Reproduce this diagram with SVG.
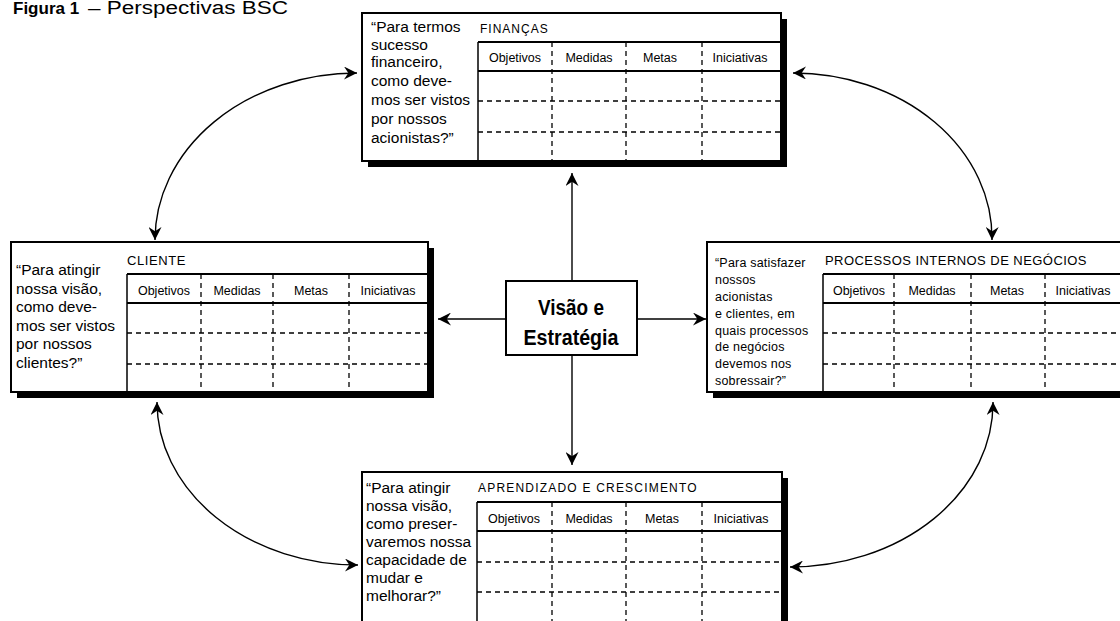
<svg xmlns="http://www.w3.org/2000/svg" width="1120" height="621" viewBox="0 0 1120 621">
<style>
text{font-family:"Liberation Sans",Arial,sans-serif;fill:#000}
.box{fill:#fff;stroke:#000;stroke-width:2}
.shadow{fill:#000}
.solid{stroke:#000;stroke-width:2}
.sep{stroke:#000;stroke-width:1.5}
.dash{stroke:#000;stroke-width:1.3;stroke-dasharray:5 4}
.q{font-size:15.5px}
.qp{font-size:12.5px;letter-spacing:0.2px}
.h{font-size:12px;letter-spacing:1px}
.col{font-size:12.5px;text-anchor:middle}
.conn{fill:none;stroke:#000;stroke-width:1.4}
.ctr{font-size:22px;font-weight:bold;text-anchor:middle}
</style>
<defs>
<marker id="ah" viewBox="0 0 12 12" refX="12" refY="6" markerWidth="13" markerHeight="13" markerUnits="userSpaceOnUse" orient="auto-start-reverse">
<path d="M0,0 L12,6 L0,12 L4,6 z" fill="#000"/>
</marker>
</defs>
<rect width="1120" height="621" fill="#fff"/>

<g id="caption">
<text x="13" y="14" style="font-size:17px;font-weight:bold">Figura 1</text>
<text x="88" y="14" style="font-size:18px" textLength="200" lengthAdjust="spacingAndGlyphs">– Perspectivas BSC</text>
</g>

<g id="connectors">
<path class="conn" d="M572,281 L572,173" marker-end="url(#ah)"/>
<path class="conn" d="M572,355 L572,465" marker-end="url(#ah)"/>
<path class="conn" d="M506,319 L438,319" marker-end="url(#ah)"/>
<path class="conn" d="M637,319 L706,319" marker-end="url(#ah)"/>
<path class="conn" d="M155,240 A202 167 0 0 1 357,73" marker-start="url(#ah)" marker-end="url(#ah)"/>
<path class="conn" d="M793,73 A199 165 0 0 1 992,240" marker-start="url(#ah)" marker-end="url(#ah)"/>
<path class="conn" d="M157,402 A201 163 0 0 0 358,565" marker-start="url(#ah)" marker-end="url(#ah)"/>
<path class="conn" d="M790,567 A203 164 0 0 0 993,402" marker-start="url(#ah)" marker-end="url(#ah)"/>
</g>

<g id="financas">
<rect class="shadow" x="368" y="19" width="419" height="148"/>
<rect class="box" x="362" y="13" width="419" height="148"/>
<line class="solid" x1="478" y1="42" x2="781" y2="42"/>
<line class="solid" x1="478" y1="71" x2="781" y2="71"/>
<line class="sep" x1="478" y1="42" x2="478" y2="161"/>
<line class="dash" x1="478" y1="101" x2="781" y2="101"/>
<line class="dash" x1="478" y1="132" x2="781" y2="132"/>
<line class="dash" x1="552" y1="42" x2="552" y2="161"/>
<line class="dash" x1="626" y1="42" x2="626" y2="161"/>
<line class="dash" x1="702" y1="42" x2="702" y2="161"/>
<text class="h" x="480" y="33">FINANÇAS</text>
<text class="col" x="515" y="62">Objetivos</text>
<text class="col" x="589" y="62">Medidas</text>
<text class="col" x="660" y="62">Metas</text>
<text class="col" x="740" y="62">Iniciativas</text>
<text class="q" x="371" y="32">“Para termos</text>
<text class="q" x="371" y="50">sucesso</text>
<text class="q" x="371" y="67">financeiro,</text>
<text class="q" x="371" y="86">como deve-</text>
<text class="q" x="371" y="105">mos ser vistos</text>
<text class="q" x="371" y="124">por nossos</text>
<text class="q" x="371" y="143">acionistas?”</text>
</g>

<g id="cliente">
<rect class="shadow" x="17" y="248" width="417" height="150"/>
<rect class="box" x="11" y="242" width="417" height="150"/>
<line class="solid" x1="127" y1="274" x2="428" y2="274"/>
<line class="solid" x1="127" y1="303" x2="428" y2="303"/>
<line class="sep" x1="127" y1="274" x2="127" y2="392"/>
<line class="dash" x1="127" y1="333" x2="428" y2="333"/>
<line class="dash" x1="127" y1="364" x2="428" y2="364"/>
<line class="dash" x1="201" y1="274" x2="201" y2="392"/>
<line class="dash" x1="273" y1="274" x2="273" y2="392"/>
<line class="dash" x1="349" y1="274" x2="349" y2="392"/>
<text class="h" x="127" y="265" style="font-size:13px;letter-spacing:0.6px">CLIENTE</text>
<text class="col" x="164" y="295">Objetivos</text>
<text class="col" x="237" y="295">Medidas</text>
<text class="col" x="311" y="295">Metas</text>
<text class="col" x="388" y="295">Iniciativas</text>
<text class="q" x="16" y="275">“Para atingir</text>
<text class="q" x="16" y="294">nossa visão,</text>
<text class="q" x="16" y="312">como deve-</text>
<text class="q" x="16" y="331">mos ser vistos</text>
<text class="q" x="16" y="349">por nossos</text>
<text class="q" x="16" y="368">clientes?”</text>
</g>

<g id="processos">
<rect class="shadow" x="713" y="248" width="420" height="150"/>
<rect class="box" x="707" y="242" width="420" height="150"/>
<line class="solid" x1="823" y1="274" x2="1127" y2="274"/>
<line class="solid" x1="823" y1="303" x2="1127" y2="303"/>
<line class="sep" x1="823" y1="274" x2="823" y2="392"/>
<line class="dash" x1="823" y1="333" x2="1127" y2="333"/>
<line class="dash" x1="823" y1="364" x2="1127" y2="364"/>
<line class="dash" x1="894" y1="274" x2="894" y2="392"/>
<line class="dash" x1="971" y1="274" x2="971" y2="392"/>
<line class="dash" x1="1045" y1="274" x2="1045" y2="392"/>
<text class="h" x="825" y="265" style="font-size:13px;letter-spacing:0.45px">PROCESSOS INTERNOS DE NEGÓCIOS</text>
<text class="col" x="859" y="295">Objetivos</text>
<text class="col" x="932" y="295">Medidas</text>
<text class="col" x="1007" y="295">Metas</text>
<text class="col" x="1083" y="295">Iniciativas</text>
<text class="qp" x="715" y="267">“Para satisfazer</text>
<text class="qp" x="715" y="284">nossos</text>
<text class="qp" x="715" y="301">acionistas</text>
<text class="qp" x="715" y="318">e clientes, em</text>
<text class="qp" x="715" y="335">quais processos</text>
<text class="qp" x="715" y="351">de negócios</text>
<text class="qp" x="715" y="368">devemos nos</text>
<text class="qp" x="715" y="385">sobressair?”</text>
</g>

<g id="aprendizado">
<rect class="shadow" x="368" y="478" width="420" height="160"/>
<rect class="box" x="362" y="472" width="420" height="160"/>
<line class="solid" x1="477" y1="502" x2="782" y2="502"/>
<line class="solid" x1="477" y1="531" x2="782" y2="531"/>
<line class="sep" x1="477" y1="502" x2="477" y2="632"/>
<line class="dash" x1="477" y1="562" x2="782" y2="562"/>
<line class="dash" x1="477" y1="592" x2="782" y2="592"/>
<line class="dash" x1="552" y1="502" x2="552" y2="632"/>
<line class="dash" x1="626" y1="502" x2="626" y2="632"/>
<line class="dash" x1="702" y1="502" x2="702" y2="632"/>
<text class="h" x="478" y="492" style="letter-spacing:1.2px">APRENDIZADO E CRESCIMENTO</text>
<text class="col" x="514" y="523">Objetivos</text>
<text class="col" x="589" y="523">Medidas</text>
<text class="col" x="662" y="523">Metas</text>
<text class="col" x="741" y="523">Iniciativas</text>
<text class="q" x="366" y="493">“Para atingir</text>
<text class="q" x="366" y="511">nossa visão,</text>
<text class="q" x="366" y="529">como preser-</text>
<text class="q" x="366" y="547">varemos nossa</text>
<text class="q" x="366" y="565">capacidade de</text>
<text class="q" x="366" y="583">mudar e</text>
<text class="q" x="366" y="601">melhorar?”</text>
</g>

<g id="visao">
<rect class="box" x="506" y="281" width="131" height="74"/>
<text class="ctr" x="571" y="315" textLength="66" lengthAdjust="spacingAndGlyphs">Visão e</text>
<text class="ctr" x="571" y="345" textLength="95" lengthAdjust="spacingAndGlyphs">Estratégia</text>
</g>
</svg>
